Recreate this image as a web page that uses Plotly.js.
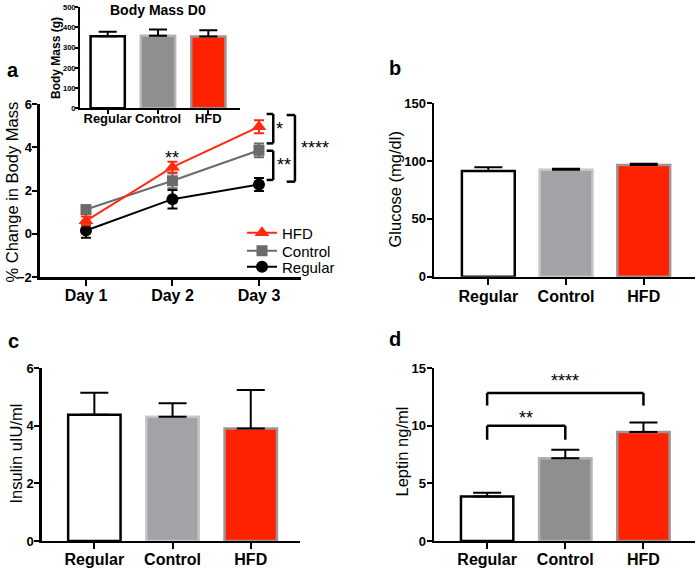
<!DOCTYPE html>
<html><head><meta charset="utf-8">
<script src="https://cdn.plot.ly/plotly-3.0.1.min.js"></script>
<style>html,body{margin:0;padding:0;background:#fff}#chart{width:700px;height:570px}</style>
</head><body><div id="chart"></div>
<script>
// ---- Panel a: % change in body mass ----
const days = ['Day 1', 'Day 2', 'Day 3'];
const hfdChange = [0.6, 3.08, 4.95];
const hfdChangeErr = [0.2, 0.25, 0.3];
const controlChange = [1.12, 2.45, 3.86];
const controlChangeErr = [0.15, 0.35, 0.32];
const regularChange = [0.15, 1.6, 2.28];
const regularChangeErr = [0.33, 0.43, 0.3];
const seriesNames = ['Regular', 'Control', 'HFD'];

// ---- Bar panels ----
const groups = ['Regular', 'Control', 'HFD'];
const bodyMassD0 = [357, 359, 355];
const bodyMassD0Err = [22, 31, 31];
const glucose = [91.5, 92.5, 96.5];
const glucoseErr = [3.2, 0.9, 1.2];
const insulin = [4.38, 4.31, 3.9];
const insulinErr = [0.76, 0.47, 1.34];
const leptin = [3.85, 7.18, 9.45];
const leptinErr = [0.33, 0.72, 0.82];

// ---- Titles ----
const yTitles = ['% Change in Body Mass', 'Body Mass (g)', 'Glucose (mg/dl)', 'Insulin uIU/ml', 'Leptin ng/ml'];
const insetTitle = 'Body Mass D0';

// ---- Significance labels ----
const dayStarsLabel = '**';
const changeStars = ['*', '**', '****'];
const changeBracketTop = [5.54, 3.84, 5.49];
const changeBracketBottom = [4.18, 2.49, 2.41];
const leptinStars = ['**', '****'];
const leptinBracketFrom = [0, 0];
const leptinBracketTo = [1, 2];
const leptinBracketLevel = [10.0, 12.84];
const leptinBracketLeg = [8.78, 11.74];

const F = 'Liberation Sans, Arial, Helvetica, sans-serif';
const RED = '#ff2200';
const fillsLight = ['#ffffff', '#a3a2a7', RED];
const fillsDark = ['#ffffff', '#8f8f8f', RED];
const lineLight = ['#000000', '#c6c6c6', '#a09492'];
const lineDark = ['#000000', '#b3b3b3', '#a09492'];

function barTrace(vals, errs, xa, ya, fills, lines, capw, bw) {
  return {
    type: 'bar', x: groups, y: vals, xaxis: xa, yaxis: ya, width: bw,
    marker: {color: fills, line: {color: lines, width: 2.5}},
    error_y: {type: 'data', symmetric: false, array: errs, arrayminus: errs.map(() => 0),
              color: '#000', thickness: 2, width: capw},
    showlegend: false, hoverinfo: 'skip'
  };
}

const lineColors = {Regular: '#000000', Control: '#6b6b6b', HFD: '#ff2a10'};
const symbols = {Regular: 'circle', Control: 'square', HFD: 'triangle-up'};
const sizes = {Regular: 12, Control: 11, HFD: 13};
const changeVals = {Regular: regularChange, Control: controlChange, HFD: hfdChange};
const changeErrs = {Regular: regularChangeErr, Control: controlChangeErr, HFD: hfdChangeErr};
const legendIds = {HFD: 'legend', Control: 'legend2', Regular: 'legend3'};

const traces = seriesNames.map(n => ({
  type: 'scatter', mode: 'lines+markers', name: n, x: days, y: changeVals[n],
  xaxis: 'x', yaxis: 'y', legend: legendIds[n],
  line: {color: lineColors[n], width: 2},
  marker: {color: lineColors[n], symbol: symbols[n], size: sizes[n]},
  error_y: {type: 'data', array: changeErrs[n], color: lineColors[n], thickness: 2, width: 5},
  hoverinfo: 'skip'
}));

traces.push(barTrace(bodyMassD0, bodyMassD0Err, 'x2', 'y2', fillsDark, lineDark, 9, 0.68));
traces.push(barTrace(glucose, glucoseErr, 'x3', 'y3', fillsLight, lineLight, 14, 0.68));
traces.push(barTrace(insulin, insulinErr, 'x4', 'y4', fillsLight, lineLight, 14, 0.67));
traces.push(barTrace(leptin, leptinErr, 'x5', 'y5', fillsDark, lineDark, 14, 0.67));

function ax(extra) {
  return Object.assign({
    showline: true, linecolor: '#000', linewidth: 2.5, ticks: 'outside', tickcolor: '#000',
    tickwidth: 2, ticklen: 5, showgrid: false, zeroline: false, fixedrange: true,
    tickfont: {family: F, size: 13, weight: 700, color: '#000'}
  }, extra);
}
const xTickFont = {family: F, size: 16, weight: 700, color: '#000'};
const yTitleFont = {family: F, size: 16.5, color: '#000'};
const legendBase = (y) => ({x: 0.3457, xanchor: 'left', y: y, yanchor: 'middle',
  font: {family: F, size: 15, color: '#000'}, bgcolor: 'rgba(0,0,0,0)'});

const layout = {
  width: 700, height: 570, margin: {l: 0, r: 0, t: 0, b: 0},
  paper_bgcolor: '#fff', plot_bgcolor: 'rgba(0,0,0,0)',
  font: {family: F, color: '#000'},
  showlegend: true,
  legend: legendBase(1 - 233 / 570),
  legend2: legendBase(1 - 251 / 570),
  legend3: legendBase(1 - 267 / 570),
  xaxis: ax({domain: [0.0571, 0.43], anchor: 'y', type: 'category', range: [-0.532, 2.486],
             tickfont: xTickFont, ticklen: 6, ticklabelstandoff: -4}),
  yaxis: ax({domain: [0.514, 0.8175], anchor: 'x', range: [-2, 6], dtick: 2, ticklabelstandoff: -2}),
  xaxis2: ax({domain: [0.1143, 0.3429], anchor: 'y2', type: 'category', range: [-0.55, 2.63],
              tickfont: {family: F, size: 13, weight: 700, color: '#000'}, ticklen: 4, linewidth: 2,
              ticklabelstandoff: -7}),
  yaxis2: ax({domain: [0.81, 0.9872], anchor: 'x2', range: [0, 500], dtick: 100, ticklen: 3, linewidth: 2,
              tickfont: {family: F, size: 7.5, weight: 700, color: '#000'}, ticklabelstandoff: -2}),
  xaxis3: ax({domain: [0.62, 0.9929], anchor: 'y3', type: 'category', range: [-0.699, 2.66],
              tickfont: xTickFont, ticklen: 6, ticklabelstandoff: -2}),
  yaxis3: ax({domain: [0.5146, 0.8188], anchor: 'x3', range: [0, 150], dtick: 50, ticklabelstandoff: -2}),
  xaxis4: ax({domain: [0.0596, 0.4286], anchor: 'y4', type: 'category', range: [-0.673, 2.63],
              tickfont: xTickFont, ticklen: 6, ticklabelstandoff: -4}),
  yaxis4: ax({domain: [0.0509, 0.3544], anchor: 'x4', range: [0, 6], dtick: 2, ticklabelstandoff: -2}),
  xaxis5: ax({domain: [0.62, 0.9929], anchor: 'y5', type: 'category', range: [-0.68, 2.66],
              tickfont: xTickFont, ticklen: 6, ticklabelstandoff: -4}),
  yaxis5: ax({domain: [0.0509, 0.3544], anchor: 'x5', range: [0, 15], dtick: 5, ticklabelstandoff: -2}),
  shapes: [], annotations: []
};

// map a category index on an axis to paper x (so marks outside the data area are not clipped)
function catToPaper(axis, v) {
  const d = axis.domain, r = axis.range;
  return d[0] + (v - r[0]) / (r[1] - r[0]) * (d[1] - d[0]);
}

// Y-axis titles (rotated text)
const yTitlePos = [[11.5, 192], [56, 58], [394.5, 190], [15.5, 454], [401.5, 452]];
yTitles.forEach((t, i) => {
  const inset = i === 1;
  layout.annotations.push({text: t, textangle: -90, x: yTitlePos[i][0] / 700, y: 1 - yTitlePos[i][1] / 570,
    xref: 'paper', yref: 'paper', xanchor: 'center', yanchor: 'middle', showarrow: false,
    font: inset ? {family: F, size: 12, weight: 700, color: '#000'} : yTitleFont});
});

// Panel labels and inset title
const panelLabel = (t, x, y) => ({text: t, x: x, y: y, xref: 'paper', yref: 'paper', showarrow: false,
  font: {family: F, size: 20, weight: 700, color: '#000'}, xanchor: 'center', yanchor: 'middle'});
layout.annotations.push(panelLabel('a', 0.018, 0.878));
layout.annotations.push(panelLabel('b', 0.565, 0.88));
layout.annotations.push(panelLabel('c', 0.019, 0.402));
layout.annotations.push(panelLabel('d', 0.565, 0.405));
layout.annotations.push({text: insetTitle, x: 1, y: 1, xref: 'x2', yref: 'paper', yanchor: 'top', yshift: 0,
  showarrow: false, font: {family: F, size: 14, weight: 700, color: '#000'}});

const starFont = {family: F, size: 18, color: '#000'};
// ** above Day 2
layout.annotations.push({text: dayStarsLabel, x: 1, y: 3.5, xref: 'x', yref: 'y', showarrow: false, font: starFont});

// Panel a brackets (right side of Day 3), x as category index
const bracketX = [[2.089, 2.165], [2.089, 2.165], [2.32, 2.416]];
const starX = [2.17, 2.18, 2.46];
const ln = {color: '#000', width: 2.5};
changeStars.forEach((s, i) => {
  const xa = catToPaper(layout.xaxis, bracketX[i][0]), xb = catToPaper(layout.xaxis, bracketX[i][1]);
  const top = changeBracketTop[i], bot = changeBracketBottom[i];
  layout.shapes.push({type: 'line', xref: 'paper', yref: 'y', x0: xb, x1: xb, y0: top, y1: bot, line: ln});
  layout.shapes.push({type: 'line', xref: 'paper', yref: 'y', x0: xa, x1: xb, y0: top, y1: top, line: ln});
  layout.shapes.push({type: 'line', xref: 'paper', yref: 'y', x0: xa, x1: xb, y0: bot, y1: bot, line: ln});
  layout.annotations.push({text: s, x: catToPaper(layout.xaxis, starX[i]), y: (top + bot) / 2,
    xref: 'paper', yref: 'y', xanchor: 'left', showarrow: false, font: starFont, yshift: 0});
});

// Panel d brackets
const leptinStarShift = [-4, 0];
leptinStars.forEach((s, i) => {
  const a = leptinBracketFrom[i], b = leptinBracketTo[i], lv = leptinBracketLevel[i], lg = leptinBracketLeg[i];
  layout.shapes.push({type: 'line', xref: 'x5', yref: 'y5', x0: a, x1: b, y0: lv, y1: lv, line: ln});
  layout.shapes.push({type: 'line', xref: 'x5', yref: 'y5', x0: a, x1: a, y0: lv, y1: lg, line: ln});
  layout.shapes.push({type: 'line', xref: 'x5', yref: 'y5', x0: b, x1: b, y0: lv, y1: lg, line: ln});
  layout.annotations.push({text: s, x: (a + b) / 2, y: lv, xref: 'x5', yref: 'y5', yanchor: 'bottom',
    showarrow: false, font: starFont, yshift: leptinStarShift[i]});
});

Plotly.newPlot('chart', traces, layout, {staticPlot: true, displayModeBar: false});
</script>
</body></html>
